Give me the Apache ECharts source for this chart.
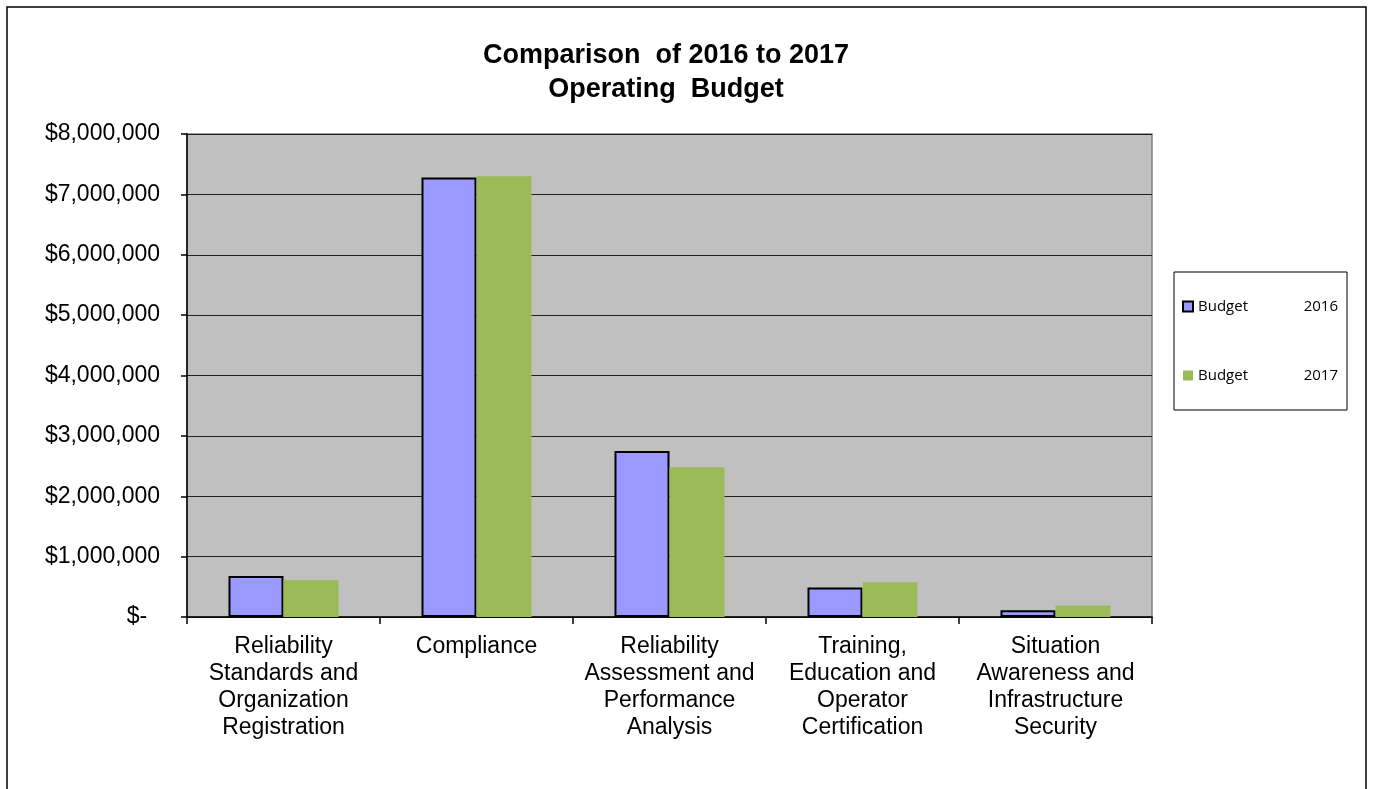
<!DOCTYPE html>
<html>
<head>
<meta charset="utf-8">
<script src="https://cdn.jsdelivr.net/npm/echarts@6/dist/echarts.min.js"></script>
<style>html,body{margin:0;padding:0;background:#fff;}#c{width:1373px;height:789px;}</style>
</head>
<body>
<div id="c"></div>
<script>
const categories = [
  "Reliability\nStandards and\nOrganization\nRegistration",
  "Compliance",
  "Reliability\nAssessment and\nPerformance\nAnalysis",
  "Training,\nEducation and\nOperator\nCertification",
  "Situation\nAwareness and\nInfrastructure\nSecurity"
];
const budget2016 = [680000, 7280000, 2750000, 490000, 110000];
const budget2017 = [610000, 7300000, 2480000, 575000, 190000];
const seriesNames = ["Budget 2016", "Budget 2017"];
const yTicks = { min: 0, max: 8000000, interval: 1000000 };

const chart = echarts.init(document.getElementById('c'), null, {renderer: 'canvas'});
function fmtMoney(v) {
  if (v === 0) return '$-  ';
  return '$' + v.toString().replace(/\B(?=(\d{3})+(?!\d))/g, ',');
}
chart.setOption({
  backgroundColor: '#fff',
  animation: false,
  title: {
    text: 'Comparison  of 2016 to 2017\nOperating  Budget',
    left: 661, top: 34, textAlign: 'center',
    textStyle: { fontFamily: 'Liberation Sans, Arial', fontSize: 27, fontWeight: 'bold', color: '#000', lineHeight: 34 }
  },
  graphic: [{
    type: 'rect', shape: { x: 7, y: 7, width: 1359, height: 800 },
    style: { fill: 'none', stroke: '#000', lineWidth: 1.5 }, silent: true, z: 100
  }],
  legend: {
    orient: 'vertical', left: 1174, top: 272,
    padding: [27, 9, 27, 8], itemGap: 54, itemWidth: 10, itemHeight: 10,
    borderColor: '#000', borderWidth: 1, backgroundColor: '#fff',
    icon: 'rect',
    formatter: function (n) { const p = n.split(' '); return '{a|' + p[0] + '}{b|' + p[1] + '}'; },
    textStyle: {
      fontFamily: 'Open Sans', fontSize: 14, color: '#000',
      rich: { a: { width: 100, fontFamily: 'Open Sans', fontSize: 15 }, b: { width: 40, align: 'right', fontFamily: 'Open Sans', fontSize: 15 } }
    },
    data: seriesNames
  },
  grid: {
    left: 187, right: 221, top: 134, bottom: 172,
    show: true, backgroundColor: '#C0C0C0', borderColor: '#808080', borderWidth: 1.5
  },
  xAxis: {
    type: 'category', data: categories,
    axisLine: { show: true, lineStyle: { color: '#000', width: 1.5 } },
    axisTick: { show: true, length: 7, interval: 0, alignWithLabel: false, lineStyle: { color: '#000', width: 1.5 } },
    axisLabel: { interval: 0, margin: 16, color: '#000', fontFamily: 'Liberation Sans, Arial', fontSize: 23, lineHeight: 27 }
  },
  yAxis: {
    type: 'value', min: yTicks.min, max: yTicks.max, interval: yTicks.interval,
    axisLine: { show: true, lineStyle: { color: '#000', width: 1.5 } },
    axisTick: { show: true, length: 6, lineStyle: { color: '#000', width: 1.5 } },
    axisLabel: { margin: 27, color: '#000', fontFamily: 'Liberation Sans, Arial', fontSize: 23, formatter: fmtMoney },
    splitLine: { show: true, lineStyle: { color: '#202020', width: 1.2 } }
  },
  series: [
    { name: seriesNames[0], type: 'bar', data: budget2016, barGap: '0%', barCategoryGap: '43%',
      itemStyle: { color: '#9999FF', borderColor: '#000', borderWidth: 2 } },
    { name: seriesNames[1], type: 'bar', data: budget2017, barGap: '0%', barCategoryGap: '43%',
      itemStyle: { color: '#9BBB59' } }
  ]
});
</script>
</body>
</html>
